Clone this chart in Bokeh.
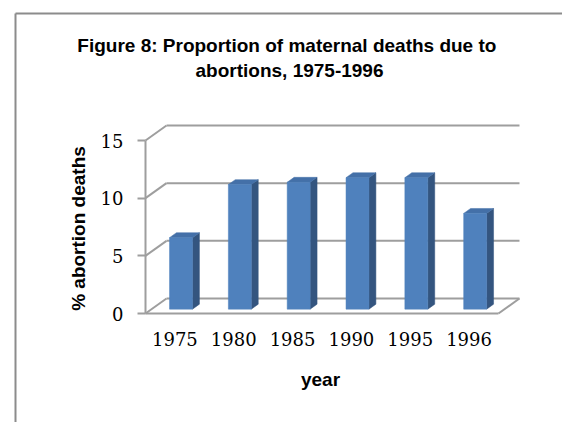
import math
from bokeh.plotting import figure
from bokeh.models import FixedTicker, Range1d
from bokeh.core.properties import value
from bokeh.embed import file_html
from bokeh.resources import INLINE

# ---- data ----
years = ["1975", "1980", "1985", "1990", "1995", "1996"]
values = [6.2, 10.8, 11.0, 11.4, 11.4, 8.3]
y_ticks = [0, 5, 10, 15]

# ---- layout constants (pixels from the canvas top-left) ----
W, H = 562, 422
X0_PX, PX_PER_CAT = 145.0, 58.83      # front-left corner of the category axis
Y0_PX, PX_PER_VAL = 313.0, 11.533     # value 0 on the front plane

def dx(px):
    return (px - X0_PX) / PX_PER_CAT

def dy(py):
    return (Y0_PX - py) / PX_PER_VAL

# ---- pseudo-3D geometry (data units) ----
N = len(years)
DX = 21 / PX_PER_CAT      # depth offset along x
DY = 15 / PX_PER_VAL      # depth offset along y
BAR_W = 0.39
F0, F1 = 0.29, 0.62       # bar front / back depth fractions

GRID = "#9e9e9e"
FRONT = "#4f81bd"
SIDE = "#34557f"
TOP = "#4470a8"
BORDER = "#8c8c8c"

p = figure(width=W, height=H,
           x_range=Range1d(dx(0), dx(W)),
           y_range=Range1d(dy(H), dy(0)),
           output_backend="svg", toolbar_location=None, title_location=None,
           min_border_left=0, min_border_right=0,
           min_border_top=0, min_border_bottom=0)
p.outline_line_color = None
p.xgrid.visible = False
p.ygrid.visible = False
p.background_fill_color = "white"
p.border_fill_color = "white"

# chart-area border (left and top)
p.segment(x0=[dx(15)], y0=[dy(13)], x1=[dx(15)], y1=[dy(H + 10)], line_color=BORDER, line_width=2)
p.segment(x0=[dx(15)], y0=[dy(13)], x1=[dx(W + 10)], y1=[dy(13)], line_color=BORDER, line_width=2)

# back wall gridlines and left-wall diagonals
for v in y_ticks:
    p.segment(x0=[DX], y0=[v + DY], x1=[N + DX], y1=[v + DY], line_color=GRID, line_width=2)
    p.segment(x0=[0], y0=[v], x1=[DX], y1=[v + DY], line_color=GRID, line_width=2)
# floor front and right edges
p.segment(x0=[0], y0=[0], x1=[N], y1=[0], line_color=GRID, line_width=2)
p.segment(x0=[N], y0=[0], x1=[N + DX], y1=[DY], line_color=GRID, line_width=2)

# bars
bd = F1 - F0
fl, fr, fb, ft = [], [], [], []
sxs, sys_, txs, tys = [], [], [], []
for i, v in enumerate(values):
    c = i + 0.5
    x0 = c - BAR_W / 2 + F0 * DX
    x1 = x0 + BAR_W
    yb = F0 * DY
    yt = v + F0 * DY
    fl.append(x0); fr.append(x1); fb.append(yb); ft.append(yt)
    sxs.append([x1, x1 + bd * DX, x1 + bd * DX, x1])
    sys_.append([yb, yb + bd * DY, yt + bd * DY, yt])
    txs.append([x0, x1, x1 + bd * DX, x0 + bd * DX])
    tys.append([yt, yt, yt + bd * DY, yt + bd * DY])

p.patches(xs=sxs, ys=sys_, fill_color=SIDE, line_color=SIDE, line_width=0.5)
p.patches(xs=txs, ys=tys, fill_color=TOP, line_color=TOP, line_width=0.5)
p.quad(left=fl, right=fr, bottom=fb, top=ft, fill_color=FRONT, line_color=FRONT, line_width=0.5)

# y axis (placed on the front-left edge)
ya = p.yaxis[0]
ya.fixed_location = 0
ya.ticker = FixedTicker(ticks=y_ticks)
ya.bounds = (0, 15)
ya.major_tick_out = 8
ya.major_tick_in = 0
ya.minor_tick_out = 0
ya.minor_tick_in = 0
ya.axis_line_color = GRID
ya.axis_line_width = 2
ya.major_tick_line_color = GRID
ya.major_tick_line_width = 2
ya.major_label_standoff = 14
ya.major_label_text_font = "DejaVu Serif"
ya.major_label_text_font_size = "18px"
ya.major_label_text_color = "black"

# x axis (category labels under the floor front edge)
xa = p.xaxis[0]
xa.fixed_location = 0
xticks = [i + 0.5 for i in range(N)]
xa.ticker = FixedTicker(ticks=xticks)
xa.major_label_overrides = {t: y for t, y in zip(xticks, years)}
xa.axis_line_color = None
xa.major_tick_out = 0
xa.major_tick_in = 0
xa.minor_tick_out = 0
xa.minor_tick_in = 0
xa.major_label_standoff = 18
xa.major_label_text_font = "DejaVu Serif"
xa.major_label_text_font_size = "18px"
xa.major_label_text_color = "black"

# titles and axis titles
FONT = value("Liberation Sans")
p.text(x=[dx(289), dx(289)], y=[dy(45), dy(70)],
       text=["Figure  8: Proportion of maternal deaths due to", "abortions, 1975-1996"],
       text_font=FONT, text_font_size="19px", text_font_style="bold", text_color="black",
       text_align="center", text_baseline="middle")
p.text(x=[dx(78)], y=[dy(228)], text=["% abortion deaths"], angle=math.pi / 2,
       text_font=FONT, text_font_size="19px", text_font_style="bold", text_color="black",
       text_align="center", text_baseline="middle")
p.text(x=[dx(320)], y=[dy(379)], text=["year"],
       text_font=FONT, text_font_size="19px", text_font_style="bold", text_color="black",
       text_align="center", text_baseline="middle")

open("out.html", "w").write(file_html(p, INLINE))
